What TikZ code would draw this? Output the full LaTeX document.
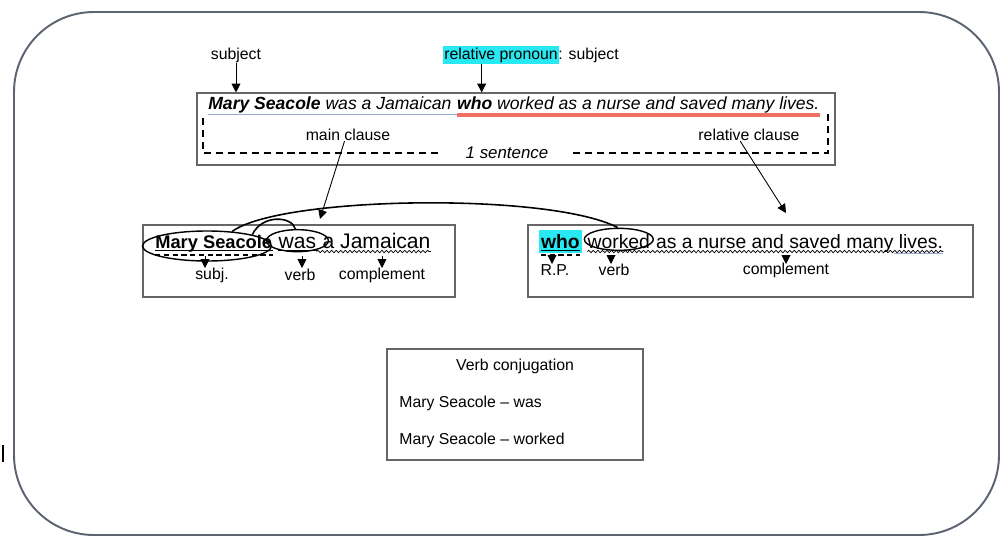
\documentclass[tikz,border=0pt]{standalone}
\usepackage{fontspec}
\setmainfont{Liberation Sans}
\usetikzlibrary{arrows.meta, positioning, shapes.geometric, fit,
                decorations.pathmorphing, calc}
\definecolor{framecolor}{RGB}{92,100,114}
\definecolor{hlcyan}{RGB}{40,232,242}
\definecolor{redline}{RGB}{240,112,100}
\definecolor{blueline}{RGB}{150,168,212}
\tikzset{
  frame/.style  = {draw=framecolor, line width=1.1pt, rounded corners=1.6cm},
  box/.style    = {draw=black!60, line width=0.6pt, inner sep=0pt},
  lbl/.style    = {font=\fontsize{9}{10}\selectfont, inner sep=0pt},
  sent/.style   = {font=\fontsize{10}{12}\selectfont\itshape, inner sep=0pt, anchor=base west},
  word/.style   = {font=\fontsize{12}{14}\selectfont, inner sep=0pt, anchor=base west},
  tip/.style    = {-{Triangle[length=5pt,width=5pt]}, line width=0.5pt},
  ring/.style   = {ellipse, draw, line width=0.8pt, inner sep=0pt},
  arcline/.style= {line width=0.9pt},
  uline/.style  = {line width=0.6pt},
  wavy/.style   = {line width=0.4pt, decorate, decoration={snake, amplitude=0.7pt, segment length=2.6pt}},
}

\begin{document}
\begin{tikzpicture}[x=0.02cm, y=-0.02cm]
\useasboundingbox (0,0) rectangle (1000,537);

% outer frame
\draw[frame] (14,12) rectangle (999,535);
\draw[line width=0.6pt] (3,445) -- (3,462);

% labels above the sentence
\node[lbl] (subjLbl) at (236,55) {subject};
\node[lbl, fill=hlcyan, inner sep=1pt] (rpLbl) at (501,55) {relative pronoun};
\node[lbl, anchor=base west, xshift=-1pt] (rpSubj) at (rpLbl.base east) {: subject};

% top box with the sentence
\node[box, fit={(197,93) (835,165)}] (topBox) {};
\node[sent] (mainPart) at (208,110) {\textbf{Mary Seacole} was a Jamaican};
\node[sent] (relPart) at ($(mainPart.base east)+(2.8pt,0)$) {\textbf{who} worked as a nurse and saved many lives.};
\draw[blueline, line width=1pt] ([yshift=-2.6pt]mainPart.base west) -- ([yshift=-2.6pt]relPart.base west);
\draw[redline, line width=1.8pt] ([yshift=-2.8pt]relPart.base west) -- ([yshift=-2.8pt]relPart.base east);

\draw[tip] (subjLbl.south) -- (subjLbl.south |- topBox.north);
\draw[tip] ([xshift=-11pt]rpLbl.south) -- ([xshift=-11pt]rpLbl.south |- topBox.north);

% dashed bracket
\node[font=\fontsize{9.6}{11}\selectfont\itshape, inner xsep=14pt, inner ysep=0pt] (oneSent) at (507,153) {1 sentence};
\draw[dashed, line width=1pt, dash pattern=on 4pt off 2.8pt] (203,118) |- (oneSent.west);
\draw[dashed, line width=1pt, dash pattern=on 4pt off 2.8pt] (oneSent.east) -| (828,112);

\node[lbl] (mainLbl) at (348,135) {main clause};
\node[lbl] (relLbl) at (749,135) {relative clause};

% main clause box
\node[box, fit={(143,225) (455,297)}] (mainBox) {};
\coordinate (mcTip) at (320,219);
\draw[tip] ([xshift=-2pt]mainLbl.south) -- (mcTip);

\node[word, font=\fontsize{10.4}{14}\selectfont\bfseries] (msWord) at (155,248) {Mary Seacole};
\node[word] (wasWord) at ($(msWord.base east)+(3.3pt,0)$) {was};
\node[word] (jamWord) at ($(wasWord.base east)+(3.3pt,0)$) {a Jamaican};
\draw[uline] ([yshift=-1.5pt]msWord.base west) -- ([yshift=-1.5pt]msWord.base east);
\draw[uline, dashed, line width=0.9pt, dash pattern=on 3pt off 2pt] ([yshift=-4pt]msWord.base west) -- ([yshift=-4pt]msWord.base east);
\draw[uline] ([yshift=-1.5pt]wasWord.base west) -- ([yshift=-1.5pt]wasWord.base east);
\draw[wavy] ([yshift=-2pt]wasWord.base east) -- ([yshift=-2pt]jamWord.base east);

\node[ring, minimum width=2.58cm, minimum height=0.6cm] (msRing) at (207,246) {};
\node[ring, minimum width=1.24cm, minimum height=0.44cm] (wasRing) at ([yshift=1pt]wasWord.center) {};

\node[lbl] (subjSm) at (212,275) {subj.};
\node[lbl] (verbA) at (300,275) {verb};
\node[lbl] (compA) at (382,275) {complement};
\foreach \x in {205, 302, 382} {
  \draw[tip] (\x,256) -- (\x,268);
}

% relative clause box
\node[box, fit={(528,225) (973,297)}] (relBox) {};
\coordinate (rcTip) at (786,213);
\draw[tip] ([xshift=-5pt]relLbl.south) -- (rcTip);

\node[word, font=\fontsize{11}{14}\selectfont\bfseries, fill=hlcyan, inner xsep=1pt, inner ysep=2.5pt] (whoWord) at (539,248) {who};
\node[word, font=\fontsize{11}{14}\selectfont] (wkWord) at ($(whoWord.base east)+(3.1pt,0)$) {worked};
\node[word, font=\fontsize{11}{14}\selectfont] (restWord) at ($(wkWord.base east)+(3.1pt,0)$) {as a nurse and saved many lives.};
\draw[uline] ([yshift=-1.5pt,xshift=1pt]whoWord.base west) -- ([yshift=-1.5pt,xshift=-1pt]whoWord.base east);
\draw[uline, dashed, line width=0.9pt, dash pattern=on 3pt off 2pt] ([yshift=-4pt,xshift=1pt]whoWord.base west) -- ([yshift=-4pt,xshift=-1pt]whoWord.base east);
\draw[wavy] ([yshift=-2pt]wkWord.base west) -- ([yshift=-2pt]restWord.base east);
\draw[blueline, line width=0.8pt] ([yshift=-3pt,xshift=-28pt]restWord.base east) -- ([yshift=-3pt]restWord.base east);

\node[ring, minimum width=1.38cm, minimum height=0.44cm] (wkRing) at ([yshift=1pt]wkWord.center) {};

\node[lbl] (rpSm) at (555,270) {R.P.};
\node[lbl] (verbB) at (614,270) {verb};
\node[lbl] (compB) at (786,270) {complement};
\foreach \x in {552, 611, 786} {
  \draw[tip] (\x,255) -- (\x,264);
}

% arcs joining subject and verbs
\draw[arcline] (msRing.30) .. controls (280,196) and (550,192) .. (wkRing.95);
\draw[arcline] (msRing.14) .. controls (262,214) and (292,216) .. (wasRing.100);

% verb conjugation box
\node[box, fit={(387,349) (643,460)}] (conjBox) {};
\node[lbl] (conjTitle) at (515,366) {Verb conjugation};
\node[lbl, anchor=west] (conjWas) at (399,403) {Mary Seacole -- was};
\node[lbl, anchor=west] (conjWorked) at (399,440) {Mary Seacole -- worked};

\end{tikzpicture}
\end{document}
